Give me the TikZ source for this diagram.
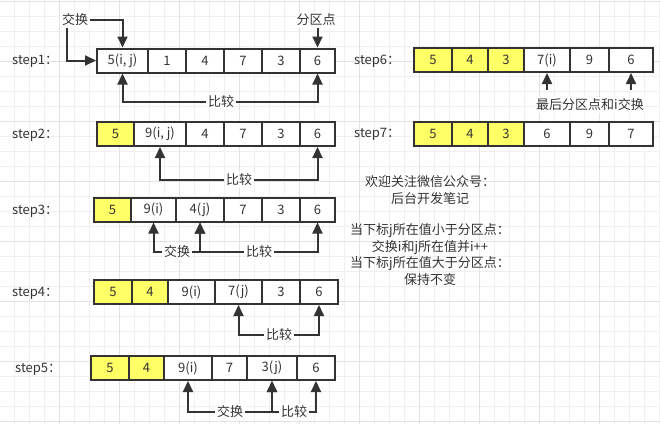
\documentclass[tikz,border=0pt]{standalone}
\usepackage{fontspec}
\setmainfont{Noto Sans CJK SC}
\usetikzlibrary{arrows.meta}
\definecolor{ink}{HTML}{333333}
\definecolor{hl}{HTML}{FFFF66}
\definecolor{gridminor}{HTML}{F0F0F0}
\definecolor{gridmajor}{HTML}{E2E2E2}
\tikzset{
	txt/.style={text=ink, font=\fontsize{13}{16.5}\selectfont},
	cell/.style={txt, draw=ink, line width=2pt, minimum height=24pt, inner sep=0pt},
	arr/.style={draw=ink, line width=2pt, -{Triangle[length=11pt,width=10pt]}},
	lbl/.style={txt, fill=white, inner sep=1.5pt},
	steplbl/.style={txt, anchor=west, inner sep=0pt},
}
\begin{document}
\begin{tikzpicture}[x=1pt, y=-1pt]
		\useasboundingbox (0, 0) rectangle (660, 424);
		\fill[white] (0, 0) rectangle (660, 424);
		\foreach \gx in {14.3, 29.3, ..., 659.3} {
			\draw[gridminor, line width=1pt] (\gx, 0) -- (\gx, 424);
		}
		\foreach \gy in {1, 16, ..., 421} {
			\draw[gridminor, line width=1pt] (0, \gy) -- (660, \gy);
		}
		\foreach \gx in {59.3, 119.3, ..., 599.3} {
			\draw[gridmajor, line width=1pt] (\gx, 0) -- (\gx, 424);
		}
		\foreach \gy in {1, 61, ..., 421} {
			\draw[gridmajor, line width=1pt] (0, \gy) -- (660, \gy);
		}
		\node[steplbl] at (12, 61) {step1：};
		\node[steplbl] at (12, 135) {step2：};
		\node[steplbl] at (12, 211) {step3：};
		\node[steplbl] at (12, 293) {step4：};
		\node[steplbl] at (15, 369) {step5：};
		\node[steplbl] at (354, 61) {step6：};
		\node[steplbl] at (354, 134) {step7：};
		\foreach \a/\b/\t/\n/\c in {97/148/{5(i, j)}/1/white, 148/186/1/2/white, 186/224/4/3/white, 224/262/7/4/white, 262/300/3/5/white, 300/335/6/6/white} {
			\node[cell, fill=\c, minimum width={(\b-\a)*1pt}] (r1-\n) at ({(\a+\b)/2}, 60.5) {\t};
		}
		\foreach \a/\b/\t/\n/\c in {97/134/5/1/hl, 134/186/{9(i, j)}/2/white, 186/224/4/3/white, 224/262/7/4/white, 262/300/3/5/white, 300/335/6/6/white} {
			\node[cell, fill=\c, minimum width={(\b-\a)*1pt}] (r2-\n) at ({(\a+\b)/2}, 134) {\t};
		}
		\foreach \a/\b/\t/\n/\c in {94/131/5/1/hl, 131/176/9(i)/2/white, 176/224/4(j)/3/white, 224/262/7/4/white, 262/300/3/5/white, 300/335/6/6/white} {
			\node[cell, fill=\c, minimum width={(\b-\a)*1pt}] (r3-\n) at ({(\a+\b)/2}, 209.5) {\t};
		}
		\foreach \a/\b/\t/\n/\c in {94/132/5/1/hl, 132/168/4/2/hl, 168/215/9(i)/3/white, 215/262/7(j)/4/white, 262/300/3/5/white, 300/338/6/6/white} {
			\node[cell, fill=\c, minimum width={(\b-\a)*1pt}] (r4-\n) at ({(\a+\b)/2}, 292) {\t};
		}
		\foreach \a/\b/\t/\n/\c in {91/129/5/1/hl, 129/164/4/2/hl, 164/212/9(i)/3/white, 212/247/7/4/white, 247/297/3(j)/5/white, 297/335/6/6/white} {
			\node[cell, fill=\c, minimum width={(\b-\a)*1pt}] (r5-\n) at ({(\a+\b)/2}, 368) {\t};
		}
		\foreach \a/\b/\t/\n/\c in {414/452/5/1/hl, 452/488/4/2/hl, 488/524/3/3/hl, 524/570/7(i)/4/white, 570/609/9/5/white, 609/653/6/6/white} {
			\node[cell, fill=\c, minimum width={(\b-\a)*1pt}] (r6-\n) at ({(\a+\b)/2}, 60) {\t};
		}
		\foreach \a/\b/\t/\n/\c in {414/452/5/1/hl, 452/488/4/2/hl, 488/524/3/3/hl, 524/570/6/4/white, 570/609/9/5/white, 609/653/7/6/white} {
			\node[cell, fill=\c, minimum width={(\b-\a)*1pt}] (r7-\n) at ({(\a+\b)/2}, 134) {\t};
		}
		\node[lbl] (swap1) at (75, 20) {交换};
		\node[lbl] (pivot1) at (316, 20) {分区点};
		\node[lbl] (cmp1) at (221, 102) {比较};
		\draw[arr] (swap1.east) -| (r1-1.north);
		\draw[arr] ([xshift=-8pt]swap1.south) |- (r1-1.west);
		\draw[arr] (pivot1.south -| r1-6.north) -- (r1-6.north);
		\draw[arr] (cmp1.west) -| (r1-1.south);
		\draw[arr] (cmp1.east) -| (r1-6.south);
		\node[lbl] (cmp2) at (239, 180) {比较};
		\draw[arr] (cmp2.west) -| (r2-2.south);
		\draw[arr] (cmp2.east) -| (r2-6.south);
		\node[lbl] (swap3) at (177, 252) {交换};
		\node[lbl] (cmp3) at (259, 252) {比较};
		\draw[arr] (swap3.west) -| (r3-2.south);
		\draw[arr] (swap3.east) -| (r3-3.south);
		\draw[arr] (cmp3.west) -| (r3-3.south);
		\draw[arr] (cmp3.east) -| (r3-6.south);
		\node[lbl] (cmp4) at (279, 335) {比较};
		\draw[arr] (cmp4.west) -| (r4-4.south);
		\draw[arr] (cmp4.east) -| (r4-6.south);
		\node[lbl] (swap5) at (230, 412) {交换};
		\node[lbl] (cmp5) at (294, 412) {比较};
		\draw[arr] (swap5.west) -| (r5-3.south);
		\draw[arr] (swap5.east) -| (r5-5.south);
		\draw[arr] (cmp5.west) -| (r5-5.south);
		\draw[arr] (cmp5.east) -| (r5-6.south);
		\node[lbl] (last6) at (590, 105) {最后分区点和i交换};
		\coordinate (tail6) at (590, 90);
		\draw[arr] (tail6 -| r6-4.south) -- (r6-4.south);
		\draw[arr] (tail6 -| r6-6.south) -- (r6-6.south);
		\node[txt, align=center, inner sep=0pt] (note1) at (430, 190) {欢迎关注微信公众号：\\后台开发笔记};
		\node[txt, align=center, inner sep=0pt] (note2) at (430, 254.5) {当下标j所在值小于分区点：\\交换i和j所在值并i++\\当下标j所在值大于分区点：\\保持不变};
	\end{tikzpicture}
\end{document}
